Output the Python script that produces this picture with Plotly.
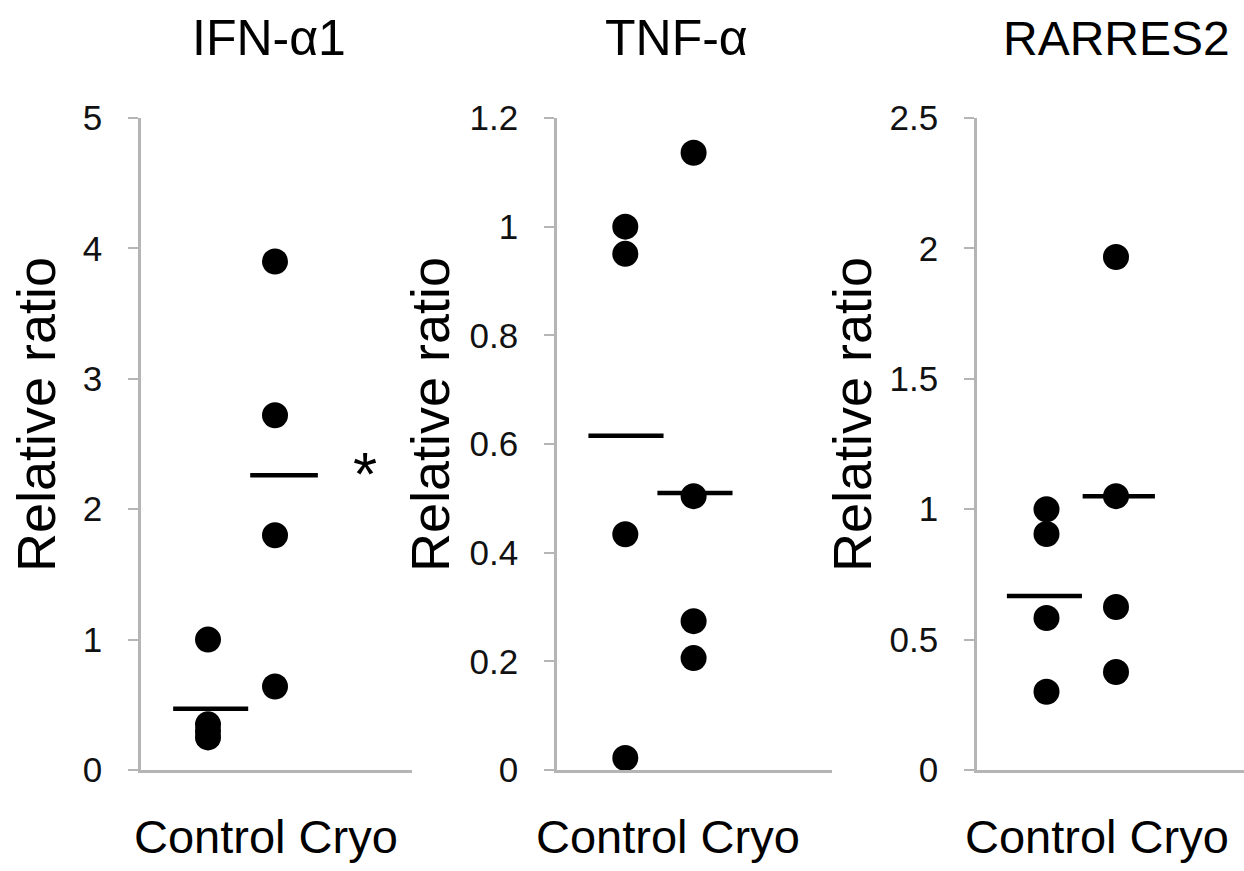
import plotly.graph_objects as go

# ---------------- data ----------------
titles = ["IFN-α1", "TNF-α", "RARRES2"]
groups = ["Control", "Cryo"]
y_label = "Relative ratio"

ifn_control = [1.0, 0.35, 0.30, 0.25]
ifn_cryo = [3.9, 2.72, 1.8, 0.64]
ifn_means = [0.47, 2.26]

tnf_control = [1.0, 0.95, 0.434, 0.022]
tnf_cryo = [1.136, 0.504, 0.274, 0.206]
tnf_means = [0.615, 0.51]

rar_control = [1.0, 0.905, 0.583, 0.30]
rar_cryo = [1.967, 1.05, 0.625, 0.376]
rar_means = [0.667, 1.05]

y_max = [5, 1.2, 2.5]
y_dtick = [1, 0.2, 0.5]
significance = ["*", "", ""]

# ---------------- layout constants ----------------
W, H = 1244, 871
FONT = "Liberation Sans, Arial, sans-serif"
AXIS_GREY = "#b5b5b5"
y_bottom_px, y_top_px = 770, 118
x_axis_px = [(141, 412), (557, 832), (977, 1244)]
px_per_unit = [67, 68.3, 69.5]
mean_extents = [((0.48, 1.6), (1.63, 2.64)),
                ((0.46, 1.56), (1.47, 2.57)),
                ((0.43, 1.51), (1.52, 2.56))]
title_cx = [269, 676, 1116]
ytitle_cx = [36, 430, 852]
group_cx = [266, 668, 1097]

panels = [
    (ifn_control, ifn_cryo, ifn_means),
    (tnf_control, tnf_cryo, tnf_means),
    (rar_control, rar_cryo, rar_means),
]

fig = go.Figure()
ydom = [(H - y_bottom_px) / H, (H - y_top_px) / H]

annotations = []
for i, (ctrl, cryo, means) in enumerate(panels):
    sfx = "" if i == 0 else str(i + 1)
    xa, ya = "x" + sfx, "y" + sfx
    x0, x1 = x_axis_px[i]
    xr = (x1 - x0) / px_per_unit[i]

    for gi, vals in enumerate([ctrl, cryo]):
        fig.add_trace(go.Scatter(
            x=[gi + 1] * len(vals), y=vals, mode="markers",
            marker=dict(size=26, color="black", line=dict(width=0)),
            xaxis=xa, yaxis=ya, showlegend=False, cliponaxis=False,
            hoverinfo="y"))
    for gi, m in enumerate(means):
        lo, hi = mean_extents[i][gi]
        fig.add_trace(go.Scatter(
            x=[lo, hi], y=[m, m], mode="lines",
            line=dict(color="black", width=4.5),
            xaxis=xa, yaxis=ya, showlegend=False, hoverinfo="skip"))

    fig.layout["xaxis" + sfx] = dict(
        domain=[x0 / W, x1 / W], range=[0, xr], anchor=ya,
        showline=True, linecolor=AXIS_GREY, linewidth=2.5,
        showticklabels=False, ticks="", showgrid=False, zeroline=False,
        fixedrange=True, automargin=False)
    fig.layout["yaxis" + sfx] = dict(
        domain=ydom, range=[0, y_max[i]], dtick=y_dtick[i], tick0=0,
        anchor=xa, showline=True, linecolor=AXIS_GREY, linewidth=2.5,
        ticks="outside", ticklen=10, tickwidth=2, tickcolor=AXIS_GREY,
        ticklabelstandoff=19, automargin=False,
        tickfont=dict(family=FONT, size=35, color="#111"),
        showgrid=False, zeroline=False, fixedrange=True)

    # y-axis title
    annotations.append(dict(
        text=y_label, x=ytitle_cx[i] / W, y=(H - 415) / H, xref="paper", yref="paper",
        textangle=-90, showarrow=False,
        font=dict(family=FONT, size=54, color="black"),
        xanchor="center", yanchor="middle"))
    # panel title
    annotations.append(dict(
        text=titles[i], x=title_cx[i] / W, y=(H - 38) / H, xref="paper", yref="paper",
        showarrow=False, font=dict(family=FONT, size=50 if i < 2 else 48, color="black"),
        xanchor="center", yanchor="middle"))
    # group labels
    annotations.append(dict(
        text=" ".join(groups), x=group_cx[i] / W, y=(H - 836) / H, xref="paper", yref="paper",
        showarrow=False, font=dict(family=FONT, size=47, color="black"),
        xanchor="center", yanchor="middle"))
    if significance[i]:
        annotations.append(dict(
            text=significance[i], x=3.35, y=means[1], xref=xa, yref=ya,
            showarrow=False, font=dict(family=FONT, size=62, color="black"),
            xanchor="center", yanchor="middle", yshift=2))

fig.update_layout(
    width=W, height=H, margin=dict(l=0, r=0, t=0, b=0, autoexpand=False),
    paper_bgcolor="white", plot_bgcolor="white",
    annotations=annotations, showlegend=False)

fig.write_html(
    "out.html",
    config={"displayModeBar": False},
    post_script="document.body.style.margin='0';document.body.style.overflow='hidden';")
